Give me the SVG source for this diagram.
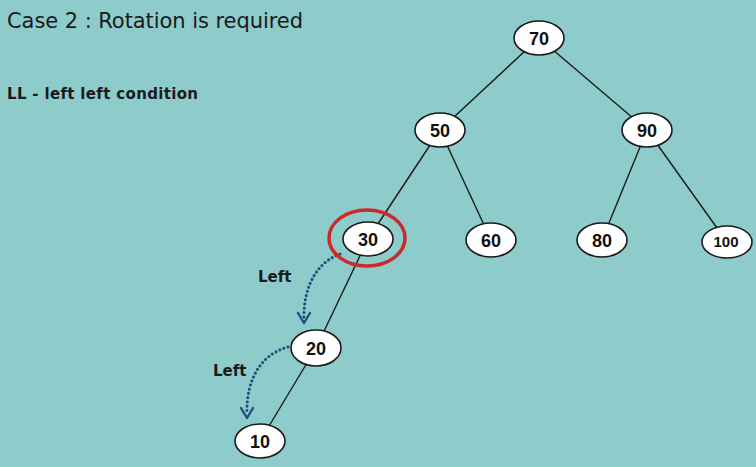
<svg xmlns="http://www.w3.org/2000/svg" width="756" height="467" viewBox="0 0 756 467">
<style>
.n ellipse{fill:#fff;stroke:#1a1a1a;stroke-width:1.6}
.n text{font-family:"Liberation Sans",Arial,sans-serif;font-weight:bold;font-size:18px;fill:#111;text-anchor:middle}
.e line{stroke:#1a1a1a;stroke-width:1.4}
.d{fill:none;stroke:#1f4f7a;stroke-width:3;stroke-dasharray:0.1 4.2;stroke-linecap:round}
.h{fill:none;stroke:#1f4f7a;stroke-width:2.4;stroke-linecap:round;stroke-linejoin:round}
.lbl{font-family:"DejaVu Sans","Liberation Sans",sans-serif;font-weight:bold;font-size:15px;fill:#1a1a1a}
</style>
<rect width="756" height="467" fill="#8ecccc"/>
<text x="7" y="28" font-family="'DejaVu Sans','Open Sans',sans-serif" font-size="21" fill="#1a1a1a" textLength="296" lengthAdjust="spacing">Case 2 : Rotation is required</text>
<text x="7" y="99" class="lbl" textLength="191" lengthAdjust="spacing">LL - left left condition</text>
<g id="connectors" class="e">
<line x1="539" y1="38" x2="440" y2="130"/>
<line x1="539" y1="38" x2="647" y2="130"/>
<line x1="440" y1="130" x2="368" y2="239"/>
<line x1="440" y1="130" x2="491" y2="240"/>
<line x1="647" y1="130" x2="602" y2="240"/>
<line x1="647" y1="130" x2="727" y2="242"/>
<line x1="368" y1="239" x2="316" y2="348"/>
<line x1="316" y1="348" x2="260" y2="441"/>
</g>
<g id="rot-arrows">
<path class="d" d="M340,254 C318,262 303,285 304,320"/>
<path class="h" d="M298,313 L304,323 L310,313"/>
<path class="d" d="M288,347 C262,354 246,378 247,414"/>
<path class="h" d="M241,408 L247,418 L253,408"/>
<text x="258" y="282" class="lbl">Left</text>
<text x="213" y="376" class="lbl">Left</text>
</g>
<g id="n70" class="n"><ellipse cx="539" cy="38" rx="25" ry="17"/><text x="539" y="44.5">70</text></g>
<g id="n50" class="n"><ellipse cx="440" cy="130" rx="25" ry="17"/><text x="440" y="136.5">50</text></g>
<g id="n90" class="n"><ellipse cx="647" cy="130" rx="25" ry="17"/><text x="647" y="136.5">90</text></g>
<g id="n30" class="n"><ellipse cx="368" cy="239" rx="25" ry="17"/><text x="368" y="245.5">30</text>
<ellipse cx="367" cy="238" rx="38" ry="28" style="fill:none;stroke:#cc2a2a;stroke-width:3.5"/></g>
<g id="n60" class="n"><ellipse cx="491" cy="240" rx="25" ry="17"/><text x="491" y="246.5">60</text></g>
<g id="n80" class="n"><ellipse cx="602" cy="240" rx="25" ry="17"/><text x="602" y="246.5">80</text></g>
<g id="n100" class="n"><ellipse cx="727" cy="242" rx="25" ry="16"/><text x="726" y="247" style="font-size:15px">100</text></g>
<g id="n20" class="n"><ellipse cx="316" cy="348" rx="25" ry="18"/><text x="316" y="354.5">20</text></g>
<g id="n10" class="n"><ellipse cx="260" cy="441" rx="25" ry="17"/><text x="260" y="447.5">10</text></g>
</svg>
